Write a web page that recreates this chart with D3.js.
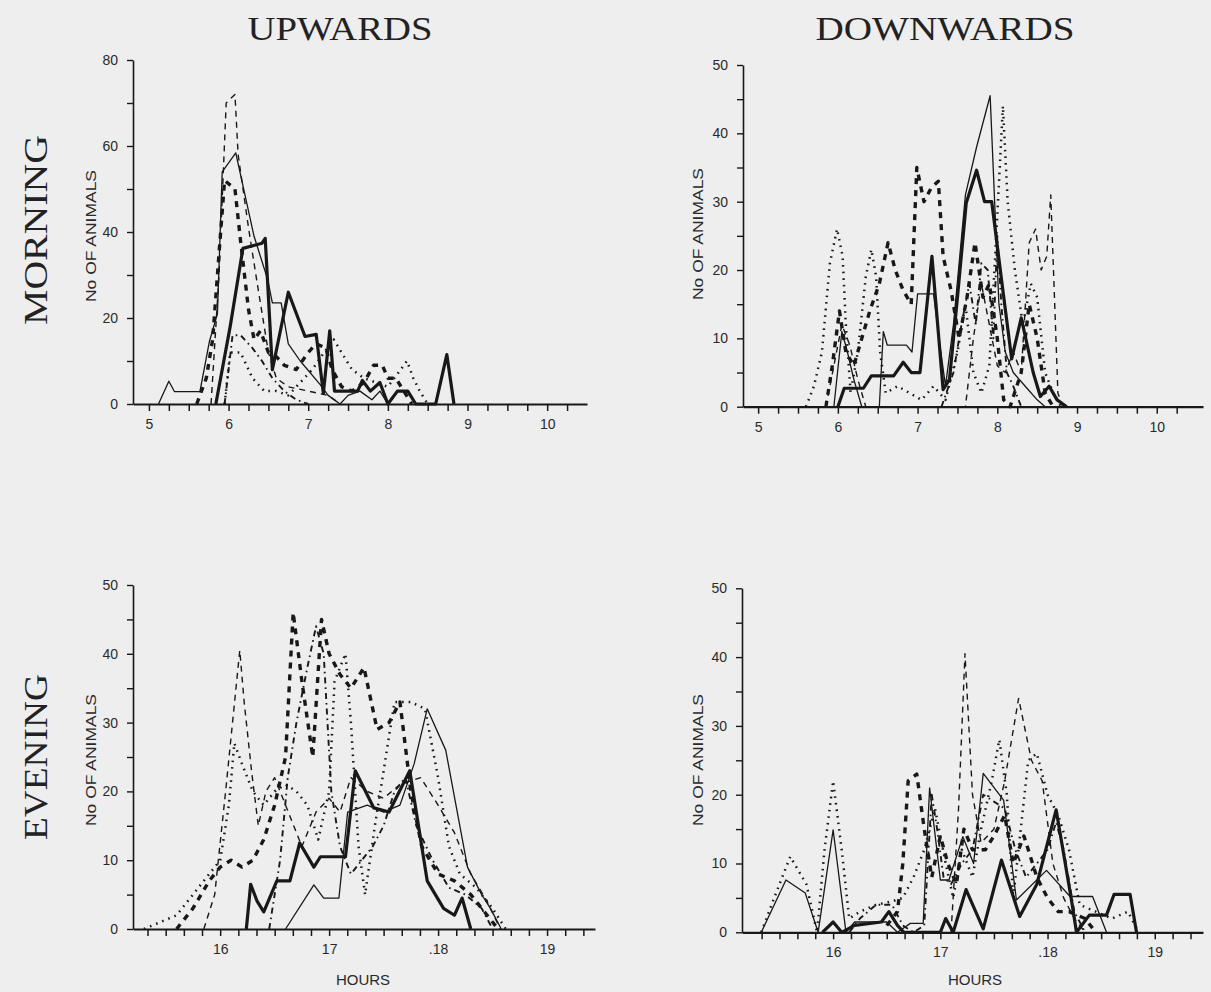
<!DOCTYPE html>
<html><head><meta charset="utf-8">
<script src="https://cdn.jsdelivr.net/npm/d3@7"></script>
<style>
html,body{margin:0;padding:0;background:#eeeeee;}
svg{display:block;}
</style></head>
<body>
<svg id="chart" width="1211" height="992"></svg>
<script>
// ---------- text ----------
const columnTitles = ["UPWARDS", "DOWNWARDS"];
const rowTitles = ["MORNING", "EVENING"];
const yAxisTitle = "No OF ANIMALS";
const xAxisTitle = "HOURS";
const morningHourLabels = [5, 6, 7, 8, 9, 10];
const eveningHourTicks = [16, 17, 18, 19];
const eveningHourLabels = ["16", "17", ".18", "19"];

// ---------- data: [hour, number of animals] ----------
// Morning, upwards
const muThin = [[5.12,0],[5.25,5.3],[5.32,2.9],[5.64,2.9],[5.76,14.6],[5.86,21],[5.92,54],[6.09,58.4],[6.32,39],[6.49,29],[6.55,23.5],[6.66,23.5],[6.75,14],[6.9,10],[7.15,4.5],[7.25,2],[7.4,0],[7.5,2],[7.65,3],[7.8,1],[7.9,3],[8.0,0]];
const muThick = [[5.84,0],[6.02,18],[6.18,36.2],[6.42,37.4],[6.46,38.5],[6.55,8],[6.75,26],[6.96,15.7],[7.1,16.2],[7.19,2.5],[7.27,17],[7.33,3],[7.62,3],[7.68,5.5],[7.78,3],[7.9,5],[8.0,0],[8.12,3],[8.25,3],[8.35,0],[8.6,0],[8.74,11.5],[8.83,0]];
const muThinDash = [[5.78,0],[5.88,30],[5.97,70],[6.08,72],[6.12,58],[6.25,41],[6.36,28],[6.5,12],[6.6,6],[6.75,4],[7.0,3],[7.25,2],[7.4,0]];
const muThickDash = [[5.6,0],[5.72,6],[5.8,15],[5.88,35],[5.95,52],[6.08,50],[6.15,38],[6.25,22],[6.32,15],[6.4,17],[6.5,12],[6.6,11],[6.7,9],[6.85,8],[7.0,12],[7.1,14],[7.22,13],[7.3,8],[7.42,4],[7.55,3],[7.7,5],[7.82,9],[7.93,9],[8.0,6],[8.1,6],[8.2,3],[8.3,0]];
const muDotted = [[5.95,0],[6.02,12],[6.15,12],[6.3,6],[6.45,3],[6.6,3],[6.75,2],[6.9,5],[7.05,8],[7.2,12],[7.32,15],[7.45,11],[7.55,8],[7.7,6],[7.85,5],[8.0,4],[8.12,7],[8.24,10],[8.32,6],[8.4,3],[8.5,0]];
const muDashDot = [[5.95,0],[6.05,16],[6.15,16],[6.3,13],[6.42,10],[6.55,6],[6.7,3],[6.85,1],[7.0,0]];

// Morning, downwards
const mdThin = [[5.95,0],[6.05,11],[6.12,8],[6.2,4],[6.3,0],[6.52,0],[6.57,11],[6.62,9],[6.86,9],[6.93,8],[7.0,16.5],[7.2,16.5],[7.28,9],[7.35,3],[7.45,12],[7.6,31],[7.74,38],[7.91,45.5],[7.97,29],[8.02,15],[8.1,8],[8.2,5],[8.35,3],[8.5,1],[8.6,0]];
const mdThick = [[6.0,0],[6.08,2.7],[6.32,2.7],[6.42,4.5],[6.7,4.5],[6.82,6.5],[6.92,5],[7.03,5],[7.18,22],[7.32,2.5],[7.4,4],[7.5,16],[7.61,29.8],[7.74,34.6],[7.84,30],[7.93,30],[8.07,17],[8.18,7],[8.3,13],[8.45,5],[8.54,1.5],[8.65,3],[8.75,1],[8.87,0]];
const mdDotted = [[5.6,0],[5.7,3],[5.8,8],[5.9,21],[5.99,26],[6.06,22],[6.1,12],[6.16,2],[6.25,8],[6.35,19],[6.42,23],[6.48,19],[6.53,8],[6.6,2],[6.75,3],[6.9,2],[7.05,1],[7.2,3],[7.35,1],[7.5,8],[7.6,15],[7.7,5],[7.8,2],[7.9,6],[8.0,28],[8.07,44],[8.13,30],[8.22,20],[8.32,12],[8.42,18],[8.5,16],[8.6,5],[8.7,2],[8.8,0]];
const mdThickDash = [[5.85,0],[5.93,6],[6.02,14],[6.1,8],[6.2,6],[6.3,10],[6.4,14],[6.52,18],[6.63,24],[6.72,20],[6.82,17],[6.92,15],[6.99,35],[7.08,30],[7.17,32],[7.26,33],[7.32,22],[7.42,17],[7.52,10],[7.62,16],[7.72,24],[7.82,16],[7.9,18],[8.0,10],[8.08,1],[8.16,0],[8.3,5],[8.4,15],[8.5,10],[8.6,2],[8.7,0]];
const mdThinDash = [[5.85,0],[5.95,6],[6.05,12],[6.15,9],[6.25,4],[6.35,0],[7.6,0],[7.7,10],[7.8,18],[7.9,12],[8.0,6],[8.1,5],[8.2,8],[8.3,5],[8.4,24],[8.48,26],[8.55,20],[8.62,22],[8.67,31],[8.72,15],[8.76,2],[8.82,0]];
const mdDashDot = [[7.3,0],[7.45,5],[7.55,12],[7.65,18],[7.73,12],[7.8,21],[7.88,20],[7.95,10],[8.0,25],[8.05,15],[8.12,5],[8.2,3],[8.3,0]];

// Evening, upwards
const euThin = [[16.6,0],[16.86,6.4],[16.95,4.5],[17.09,4.5],[17.17,17],[17.35,18],[17.5,17],[17.65,18],[17.78,24],[17.9,32],[18.07,26],[18.27,9],[18.4,5],[18.48,3],[18.58,0]];
const euThick = [[16.24,0],[16.28,6.5],[16.34,4],[16.4,2.5],[16.52,7],[16.64,7],[16.73,12.5],[16.86,9],[16.92,10.5],[17.15,10.5],[17.24,23],[17.41,17.6],[17.55,17],[17.74,23],[17.9,7],[18.05,3],[18.15,2],[18.22,4.5],[18.3,0]];
const euThinDash = [[15.85,0],[15.95,5],[16.05,20],[16.18,40.5],[16.22,33],[16.29,22.7],[16.35,15],[16.42,20],[16.5,22],[16.6,18],[16.75,12],[16.88,17],[17.0,19],[17.1,17],[17.2,22],[17.35,20],[17.5,19],[17.65,21],[17.84,22],[18.0,18],[18.15,14],[18.3,8],[18.45,4],[18.57,0]];
const euThickDash = [[15.6,0],[15.75,3],[15.9,7],[16.0,9],[16.1,10],[16.2,9],[16.3,10],[16.4,13],[16.5,18],[16.6,25],[16.67,46],[16.75,36],[16.85,25],[16.93,45],[17.0,40],[17.1,37],[17.2,35],[17.32,38],[17.44,29],[17.55,30],[17.65,33],[17.75,20],[17.85,12],[18.0,8],[18.15,7],[18.3,5],[18.45,2],[18.55,0]];
const euDotted = [[15.3,0],[15.45,1],[15.6,2],[15.75,5],[15.9,8],[16.0,10],[16.08,18],[16.13,27],[16.2,24],[16.3,20],[16.4,18],[16.5,20],[16.6,21],[16.7,20],[16.8,18],[16.9,13],[17.0,20],[17.05,36],[17.15,40],[17.2,30],[17.27,12],[17.33,5],[17.42,15],[17.52,25],[17.6,33],[17.75,33],[17.88,32],[18.0,22],[18.1,12],[18.2,8],[18.35,6],[18.5,3],[18.62,0]];
const euDashDot = [[16.45,0],[16.55,10],[16.62,22],[16.7,30],[16.8,38],[16.88,44],[16.95,40],[17.02,20],[17.1,12],[17.2,8],[17.3,10],[17.4,12],[17.5,15],[17.6,20],[17.7,22],[17.8,15],[17.95,10],[18.1,6],[18.25,5],[18.4,3],[18.5,0]];

// Evening, downwards
const edThin = [[15.33,0],[15.56,7.6],[15.74,5.7],[15.86,0],[16.0,14.9],[16.12,0],[16.2,1.5],[16.5,1.5],[16.6,0],[16.72,1.3],[16.84,1.3],[16.9,21],[17.0,7.6],[17.08,7.6],[17.21,13.9],[17.31,10],[17.4,23.1],[17.59,19.2],[17.71,4.7],[17.99,9],[18.21,5.2],[18.42,5.2],[18.55,0]];
const edThick = [[15.9,0],[16.0,1.5],[16.08,0],[16.2,1],[16.45,1.5],[16.52,3],[16.6,1],[16.66,0],[17.0,0],[17.05,2],[17.12,0],[17.24,6.2],[17.4,0.5],[17.57,10.5],[17.74,2.3],[17.9,7],[18.08,17.8],[18.22,5],[18.27,0],[18.39,2.5],[18.55,2.5],[18.62,5.5],[18.77,5.5],[18.83,0]];
const edThinDash = [[17.1,0],[17.17,18],[17.23,40.5],[17.3,20],[17.38,13],[17.5,15],[17.6,22],[17.73,34],[17.85,25],[17.95,22],[18.05,10],[18.15,5],[18.25,2],[18.35,0]];
const edThickDash = [[16.5,1],[16.6,3],[16.65,10],[16.7,22],[16.78,23],[16.85,15],[16.92,8],[17.0,14],[17.07,10],[17.15,7],[17.22,15],[17.3,12],[17.42,12],[17.5,14],[17.6,17],[17.68,10],[17.78,14],[17.9,8],[18.0,5],[18.1,3],[18.2,3],[18.35,2],[18.45,0]];
const edDotted = [[15.33,0],[15.45,5],[15.6,11],[15.75,7],[15.85,0],[15.92,12],[16.0,22],[16.08,12],[16.15,2],[16.25,3],[16.4,4],[16.55,4.5],[16.65,5],[16.75,8],[16.85,12],[16.95,18],[17.05,10],[17.12,5],[17.2,12],[17.3,8],[17.38,15],[17.48,22],[17.55,28],[17.62,20],[17.68,5],[17.75,15],[17.82,25],[17.9,26],[18.0,20],[18.1,17],[18.2,12],[18.3,4],[18.45,3],[18.6,2],[18.75,3],[18.85,0]];
const edDashDot = [[16.15,0],[16.25,2],[16.4,4],[16.55,4],[16.65,1],[16.75,0],[16.85,1],[16.92,20],[16.97,15],[17.03,8],[17.1,7],[17.2,10],[17.3,12],[17.4,20],[17.5,19],[17.6,18],[17.7,12],[17.8,8],[17.9,10],[18.0,12],[18.08,16],[18.15,12],[18.25,3],[18.35,0]];

// ---------- styles ----------
const INK = "#181818";
const styles = {
  thin:      {w: 1.3, dash: null},
  thick:     {w: 3.2, dash: null},
  thinDash:  {w: 1.4, dash: "6,5"},
  thickDash: {w: 3.4, dash: "6,6"},
  dotted:    {w: 2.5, dash: "1.6,5"},
  dashDot:   {w: 1.9, dash: "6,4,1.6,4"}
};

const panels = [
  {xDom:[4.8,10.5], xr:[133,587], yMax:80, yr:[404,60], yStep:10, yLab:20, morning:true,
   series:[["dotted",muDotted],["dashDot",muDashDot],["thinDash",muThinDash],["thickDash",muThickDash],["thin",muThin],["thick",muThick]],
   yTitle:[92,236], hours:false},
  {xDom:[4.81,10.58], xr:[743,1203], yMax:50, yr:[406.7,65], yStep:5, yLab:10, morning:true,
   series:[["dotted",mdDotted],["dashDot",mdDashDot],["thinDash",mdThinDash],["thickDash",mdThickDash],["thin",mdThin],["thick",mdThick]],
   yTitle:[699,234], hours:false},
  {xDom:[15.2,19.44], xr:[133,595], yMax:50, yr:[929,585], yStep:5, yLab:10, morning:false,
   series:[["dotted",euDotted],["dashDot",euDashDot],["thinDash",euThinDash],["thickDash",euThickDash],["thin",euThin],["thick",euThick]],
   yTitle:[92,760], hours:[363,985]},
  {xDom:[15.15,19.45], xr:[742,1203], yMax:50, yr:[932.3,588.3], yStep:5, yLab:10, morning:false,
   series:[["dotted",edDotted],["dashDot",edDashDot],["thinDash",edThinDash],["thickDash",edThickDash],["thin",edThin],["thick",edThick]],
   yTitle:[699,760], hours:[975,985]}
];

const svg = d3.select("#chart");
svg.append("rect").attr("width",1211).attr("height",992).attr("fill","#eeeeee");

const SANS = "'Liberation Sans', Arial, Helvetica, sans-serif";
const SERIF = "'Liberation Serif', 'Times New Roman', serif";

panels.forEach(p => {
  const x = d3.scaleLinear().domain(p.xDom).range(p.xr);
  const y = d3.scaleLinear().domain([0, p.yMax]).range(p.yr);
  const g = svg.append("g");

  // lines
  const line = d3.line().x(d => x(d[0])).y(d => y(d[1]));
  p.series.forEach(([st, data]) => {
    const s = styles[st];
    g.append("path").datum(data).attr("d", line)
      .attr("fill","none").attr("stroke",INK)
      .attr("stroke-width", s.w)
      .attr("stroke-linejoin","round")
      .attr("stroke-dasharray", s.dash);
  });

  // x axis
  let xTicks, fmt;
  if (p.morning) {
    xTicks = d3.range(0, 22).map(i => 5 + i * 0.25);
    fmt = v => (Math.abs(v - Math.round(v)) < 1e-6 && morningHourLabels.includes(Math.round(v))) ? String(Math.round(v)) : "";
  } else {
    xTicks = d3.range(0, 25).map(i => 15 + (i + 2) / 6);
    fmt = v => {
      const r = Math.round(v);
      const k = eveningHourTicks.indexOf(r);
      return (Math.abs(v - r) < 1e-6 && k >= 0) ? eveningHourLabels[k] : "";
    };
  }
  const xa = g.append("g").attr("transform", `translate(0,${p.yr[0]})`)
    .call(d3.axisBottom(x).tickValues(xTicks).tickFormat(fmt).tickSize(7).tickSizeOuter(0).tickPadding(8));
  xa.select(".domain").attr("stroke",INK).attr("stroke-width",2.2);
  xa.selectAll(".tick line").attr("stroke",INK).attr("stroke-width",1.5);
  xa.selectAll(".tick text").attr("fill","#2a2a2a").style("font-family",SANS).style("font-size","14px");

  // y axis
  const yTicks = d3.range(0, p.yMax / p.yStep + 1).map(i => i * p.yStep);
  const ya = g.append("g").attr("transform", `translate(${p.xr[0]},0)`)
    .call(d3.axisLeft(y).tickValues(yTicks).tickFormat(v => v % p.yLab === 0 ? String(v) : "").tickSize(6).tickSizeOuter(0).tickPadding(9));
  ya.select(".domain").attr("stroke",INK).attr("stroke-width",1.6);
  ya.selectAll(".tick line").attr("stroke",INK).attr("stroke-width",1.4);
  ya.selectAll(".tick text").attr("fill","#2a2a2a").style("font-family",SANS).style("font-size","14px");

  // y title
  svg.append("text").attr("transform", `translate(${p.yTitle[0]},${p.yTitle[1]}) rotate(-90)`)
    .attr("text-anchor","middle").attr("dominant-baseline","middle")
    .attr("textLength", 132).attr("lengthAdjust","spacingAndGlyphs")
    .style("font-family",SANS).style("font-size","15px").attr("fill","#2a2a2a")
    .text(yAxisTitle);

  if (p.hours) {
    svg.append("text").attr("x",p.hours[0]).attr("y",p.hours[1])
      .attr("text-anchor","middle")
      .style("font-family",SANS).style("font-size","15px").attr("fill","#2a2a2a")
      .text(xAxisTitle);
  }
});

// column titles
[[340, columnTitles[0], 185],[945, columnTitles[1], 259]].forEach(([cx, t, w]) => {
  svg.append("text").attr("x",cx).attr("y",40).attr("text-anchor","middle")
    .attr("textLength", w).attr("lengthAdjust","spacingAndGlyphs")
    .style("font-family",SERIF).style("font-size","33px").attr("fill","#222")
    .text(t);
});
// row titles
[[230, rowTitles[0], 190],[757, rowTitles[1], 166]].forEach(([cy, t, w]) => {
  svg.append("text").attr("transform",`translate(47,${cy}) rotate(-90)`).attr("text-anchor","middle")
    .attr("textLength", w).attr("lengthAdjust","spacingAndGlyphs")
    .style("font-family",SERIF).style("font-size","33px").attr("fill","#222")
    .text(t);
});
</script>
</body></html>
